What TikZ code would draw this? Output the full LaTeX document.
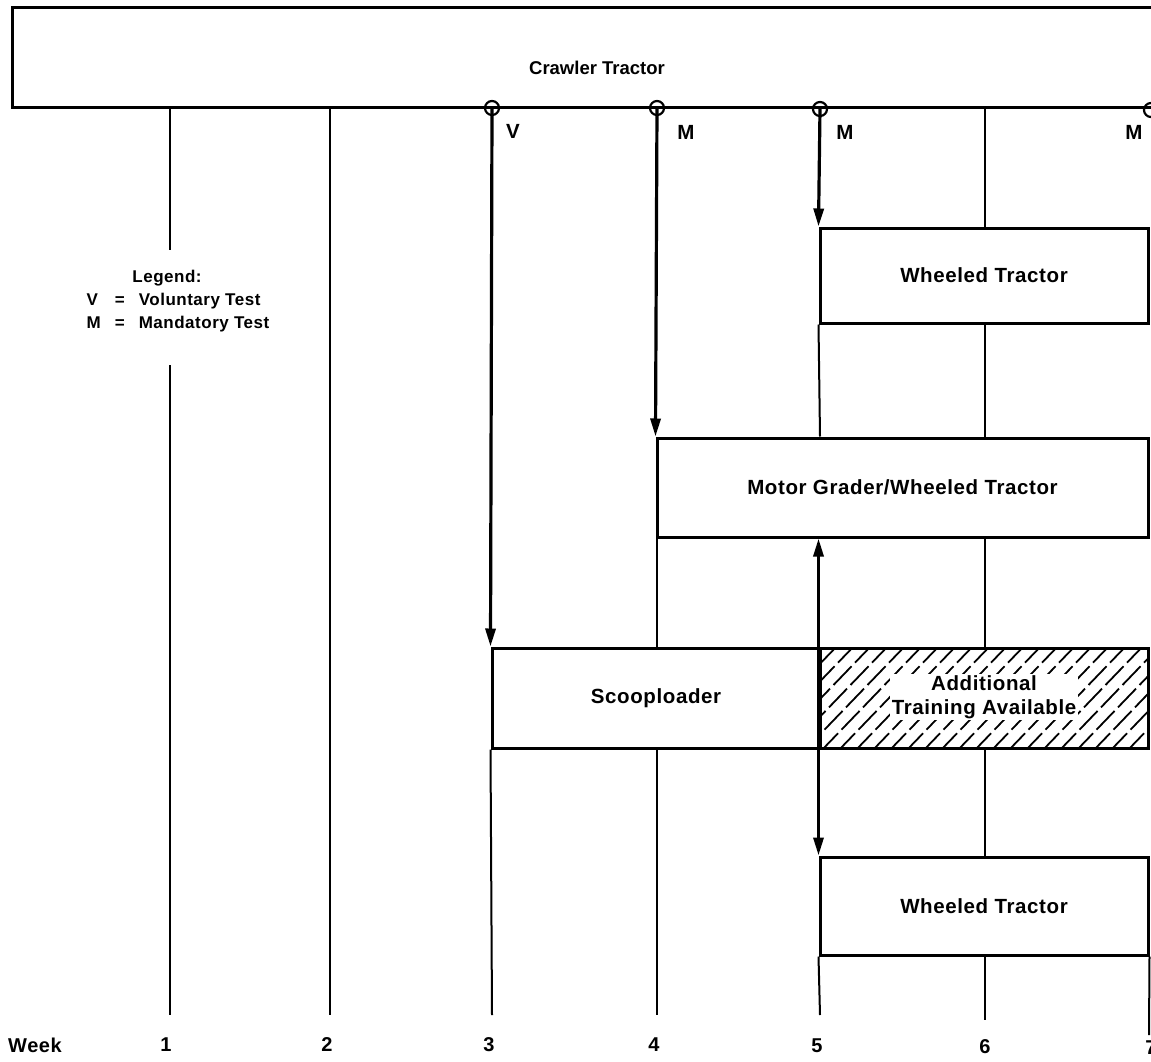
\documentclass[tikz,border=0pt]{standalone}
\usepackage{fontspec}
\setmainfont{Liberation Sans}[LetterSpace=3]
\usetikzlibrary{arrows.meta}
\newcommand\myBigFont{\fontsize{20.5}{24}\selectfont\bfseries}
\newcommand\myLegFont{\fontsize{17}{23}\selectfont\bfseries}
\newcommand\myWeekFont{\fontsize{20}{24}\selectfont\bfseries}
\tikzset{
  box/.style={draw, line width=3pt, rectangle, inner sep=0pt, font=\myBigFont},
  wkline/.style={line width=2pt},
  flow/.style={line width=3.2pt, -{Triangle[length=18pt,width=10pt]}},
  both/.style={line width=3.2pt, {Triangle[length=18pt,width=10pt]}-{Triangle[length=18pt,width=10pt]}},
  tp/.style={circle, draw, line width=2.2pt, minimum size=14pt, inner sep=0pt},
  lbl/.style={font=\myBigFont, inner sep=0pt},
  wk/.style={font=\myWeekFont, inner sep=0pt},
  hatchline/.style={line width=1.8pt, dash pattern=on 26pt off 5pt},
}
\begin{document}
\begin{tikzpicture}[x=1pt,y=-1pt]
\clip (0,0) rectangle (1151,1062);
\fill[white] (0,0) rectangle (1151,1062);

% boxes
\node[box, minimum width=1170pt, minimum height=100pt, text height=34pt] (crawler) at (597,58) {\fontsize{18.5}{22}\selectfont\addfontfeature{LetterSpace=0}Crawler Tractor};
\node[box, minimum width=328pt, minimum height=95pt] (wt1) at (984,275.5) {Wheeled Tractor};
\node[box, minimum width=491pt, minimum height=99pt] (mg) at (902.5,487.5) {Motor Grader/Wheeled Tractor};
\node[box, minimum width=328pt, minimum height=100pt] (scoop) at (656,698) {Scooploader};

% hatched area
\begin{scope}
  \clip (820,648) rectangle (1148,748);
  \foreach \k in {-119,-102,...,340}
    \draw[hatchline] (820+\k,752) -- (924+\k,644);
\end{scope}
\node[box, minimum width=328pt, minimum height=100pt] (hatch) at (984,698) {};
\node[font=\myBigFont, fill=white, inner sep=1.5pt, align=center] (addl) at (984,697) {Additional\\Training Available};

\node[box, minimum width=328pt, minimum height=98pt] (wt2) at (984,906) {Wheeled Tractor};

% test points
\node[tp] (c3) at (492,108) {};
\node[tp] (c4) at (657,108) {};
\node[tp] (c5) at (820,109) {};
\node[tp] (c7) at (1151,110) {};
\node[lbl] (lv) at (513,131) {V};
\node[lbl] (lm4) at (686,132) {M};
\node[lbl] (lm5) at (845,132) {M};
\node[lbl] (lm7) at (1134,132) {M};

% legend
\node[font=\myLegFont, inner sep=0pt] (legend) at (178,301)
  {\begin{tabular}{@{}l@{\hspace{14pt}}l@{\hspace{14pt}}l@{}}
   \multicolumn{3}{@{}c@{\hspace{22pt}}}{Legend:}\\
   V & = & Voluntary Test\\
   M & = & Mandatory Test
   \end{tabular}};
\coordinate (gapTop) at (170,250);
\coordinate (gapBot) at (170,365);

% week labels
\node[wk] (week) at (35,1045) {Week};
\node[wk] (w1) at (166,1045) {1};
\node[wk] (w2) at (327,1045) {2};
\node[wk] (w3) at (489,1045) {3};
\node[wk] (w4) at (654,1045) {4};
\node[wk] (w5) at (817,1046) {5};
\node[wk] (w6) at (985,1047) {6};
\node[wk] (w7) at (1151,1048) {7};

\coordinate (b1) at (170,1015);
\coordinate (b2) at (330,1015);
\coordinate (b3) at (492,1015);
\coordinate (b4) at (657,1015);
\coordinate (b5) at (820,1015);
\coordinate (b6) at (985,1020);
\coordinate (b7) at (1149,1035);

% week lines
\draw[wkline] (crawler.south -| b1) -- (gapTop);
\draw[wkline] (gapBot) -- (b1);
\draw[wkline] (crawler.south -| b2) -- (b2);
\draw[wkline] (scoop.south west) -- (b3);
\draw[wkline] (mg.south -| b4) -- (scoop.north -| b4);
\draw[wkline] (scoop.south -| b4) -- (b4);
\draw[wkline] (wt1.south west) -- (mg.north -| b5);
\draw[wkline] (wt2.south west) -- (b5);
\draw[wkline] (crawler.south -| b6) -- (wt1.north -| b6);
\draw[wkline] (wt1.south -| b6) -- (mg.north -| b6);
\draw[wkline] (mg.south -| b6) -- (hatch.north -| b6);
\draw[wkline] (hatch.south -| b6) -- (wt2.north -| b6);
\draw[wkline] (wt2.south -| b6) -- (b6);
\draw[wkline] (wt2.south east) -- (b7);

% flows
\draw[flow] (c3.center) -- (scoop.north west);
\draw[flow] (c4.center) -- (mg.north west);
\draw[flow] (c5.center) -- (wt1.north west);
\draw[both] (mg.south -| wt2.west) -- (wt2.north west);
\end{tikzpicture}
\end{document}
